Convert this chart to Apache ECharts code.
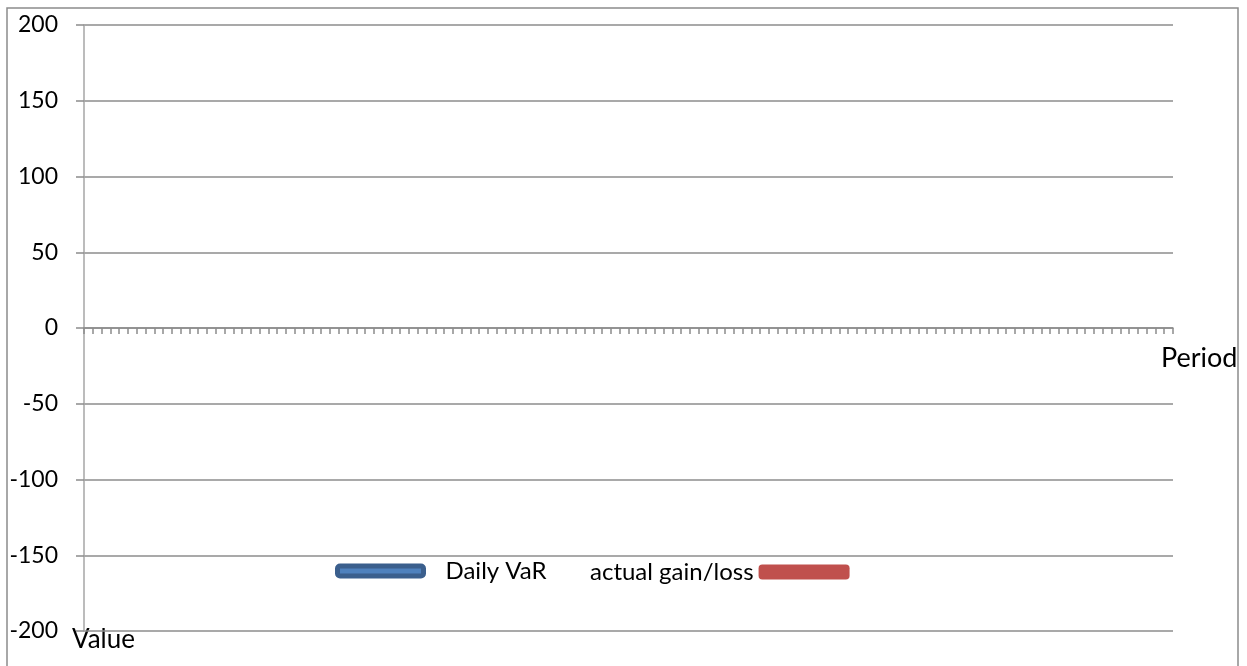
<!DOCTYPE html>
<html>
<head>
<meta charset="utf-8">
<script src="https://cdn.jsdelivr.net/npm/echarts@6/dist/echarts.min.js"></script>
<style>
  html, body { margin: 0; padding: 0; background: #fff; }
  #chart { width: 1247px; height: 666px; }
</style>
</head>
<body>
<div id="chart"></div>
<script>
// 124 periods on the category axis, no values plotted in the picture
const periods = [];
for (let i = 1; i <= 124; i++) periods.push(String(i));
const dailyVar = [];
const actualGainLoss = [];
const yTicks = { min: -200, max: 200, step: 50 };

const FONT = 'Lato';
const chart = echarts.init(document.getElementById('chart'));

const option = {
    animation: false,
    grid: { left: 84, right: 74, top: 25, bottom: 35, containLabel: false },
    legend: [{
        data: ['Daily VaR'],
        left: 330,
        top: 554,
        icon: 'roundRect',
        itemWidth: 86,
        itemHeight: 10,
        itemStyle: { color: '#4f81bd', borderColor: '#3b5f8d', borderWidth: 5 },
        textStyle: { fontFamily: FONT, fontSize: 24, color: '#000', padding: [0, 0, 0, 17] }
    }, {
        data: ['actual gain/loss'],
        left: 585,
        top: 555,
        align: 'right',
        icon: 'roundRect',
        itemWidth: 91,
        itemHeight: 15,
        itemStyle: { color: '#c0504d', borderWidth: 0 },
        textStyle: { fontFamily: FONT, fontSize: 24, color: '#000' }
    }],
    xAxis: {
        type: 'category',
        data: periods,
        boundaryGap: true,
        axisLine: { lineStyle: { color: '#8c8c8c', width: 1.5 } },
        axisTick: { show: true, length: 6, interval: 0, lineStyle: { color: '#8c8c8c', width: 1.5 } },
        axisLabel: { show: false },
        splitLine: { show: false }
    },
    yAxis: {
        type: 'value',
        min: yTicks.min,
        max: yTicks.max,
        interval: yTicks.step,
        axisLine: { show: true, lineStyle: { color: '#a6a6a6', width: 1.5 } },
        axisTick: { show: true, length: 8, lineStyle: { color: '#8c8c8c', width: 1.5 } },
        axisLabel: { margin: 26, fontFamily: FONT, fontSize: 23, color: '#000' },
        splitLine: { lineStyle: { color: '#8c8c8c', width: 1.5 } }
    },
    graphic: [{
        type: 'rect',
        shape: { x: 7, y: 8, width: 1231, height: 700 },
        style: { fill: 'none', stroke: '#8c8c8c', lineWidth: 1.5 },
        silent: true
    }, {
        type: 'text',
        left: 1161,
        top: 345,
        style: { text: 'Period', font: '27px ' + FONT, fill: '#000' }
    }, {
        type: 'text',
        left: 72,
        top: 627,
        style: { text: 'Value', font: '26px ' + FONT, fill: '#000' }
    }],
    series: [{
        name: 'Daily VaR',
        type: 'line',
        data: dailyVar,
        itemStyle: { color: '#4f81bd' },
        lineStyle: { color: '#4f81bd' }
    }, {
        name: 'actual gain/loss',
        type: 'line',
        data: actualGainLoss,
        itemStyle: { color: '#c0504d' },
        lineStyle: { color: '#c0504d' }
    }]
};
chart.setOption(option);
</script>
</body>
</html>
